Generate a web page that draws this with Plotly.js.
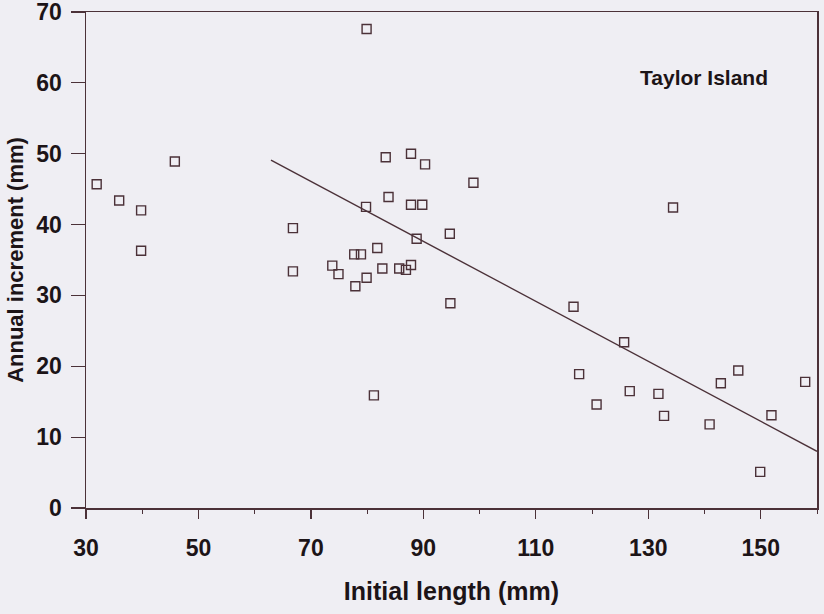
<!DOCTYPE html>
<html>
<head>
<meta charset="utf-8">
<script src="https://cdn.plot.ly/plotly-3.0.1.min.js"></script>
<style>
  html, body { margin: 0; padding: 0; background: #efeef3; }
  #chart { width: 824px; height: 614px; }
</style>
</head>
<body>
<div id="chart"></div>
<script>
// Initial length (mm) and annual increment (mm), Taylor Island
const initialLength = [31.9, 35.9, 39.8, 39.8, 45.8, 66.8, 66.8, 73.8, 74.9, 77.7,
  78.9, 77.9, 79.9, 79.9, 79.8, 81.8, 81.2, 83.3, 83.8, 82.7,
  85.7, 86.9, 87.8, 87.8, 90.3, 87.8, 89.8, 88.8, 94.7, 94.8,
  98.9, 116.7, 117.7, 120.8, 125.7, 126.7, 131.8, 132.8, 134.4, 140.9,
  142.9, 146.0, 149.9, 151.9, 157.9];
const annualIncrement = [45.7, 43.4, 42.0, 36.3, 48.9, 39.5, 33.4, 34.2, 33.0, 35.8,
  35.8, 31.3, 32.5, 67.6, 42.5, 36.7, 15.9, 49.5, 43.9, 33.8,
  33.8, 33.6, 34.3, 50.0, 48.5, 42.8, 42.8, 38.0, 38.7, 28.9,
  45.9, 28.4, 18.9, 14.6, 23.4, 16.5, 16.1, 13.0, 42.4, 11.8,
  17.6, 19.4, 5.1, 13.1, 17.8];
// fitted regression line end points
const fitX = [62.9, 160];
const fitY = [49.1, 8.0];
const xTickVals = [30, 50, 70, 90, 110, 130, 150];
const yTickVals = [0, 10, 20, 30, 40, 50, 60, 70];

const ink = '#4b3138';
const txt = '#1c1417';
const boldFont = (size) => ({ family: 'Liberation Sans, Arial, sans-serif', size: size, color: txt, weight: 700 });

const traces = [
  {
    x: fitX, y: fitY, mode: 'lines', type: 'scatter',
    line: { color: ink, width: 1.4 }, hoverinfo: 'skip', showlegend: false
  },
  {
    x: initialLength, y: annualIncrement, mode: 'markers', type: 'scatter',
    marker: { symbol: 'square-open', size: 9, color: ink, line: { width: 1.4, color: ink } },
    showlegend: false
  }
];

const layout = {
  width: 824, height: 614,
  paper_bgcolor: '#efeef3', plot_bgcolor: '#efeef3',
  margin: { l: 86, r: 7, t: 12, b: 106, autoexpand: false },
  showlegend: false,
  xaxis: {
    range: [30, 160], tickvals: xTickVals, ticktext: xTickVals.map(String),
    showgrid: false, zeroline: false, showline: true, mirror: true,
    linecolor: ink, linewidth: 1.5,
    ticks: 'outside', ticklen: 9, tickwidth: 1.2, tickcolor: ink,
    ticklabelstandoff: 10, ticklabeloverflow: 'allow', automargin: false,
    minor: { dtick: 10, tick0: 30, ticks: 'outside', ticklen: 4, tickcolor: ink, tickwidth: 1 },
    tickfont: boldFont(23),
    title: { text: 'Initial length (mm)', font: boldFont(25), standoff: 22 }
  },
  yaxis: {
    range: [0, 70], tickvals: yTickVals, ticktext: yTickVals.map(String),
    showgrid: false, zeroline: false, showline: true, mirror: true,
    linecolor: ink, linewidth: 1.5,
    ticks: 'outside', ticklen: 14, tickwidth: 1.2, tickcolor: ink,
    ticklabelstandoff: 4, ticklabeloverflow: 'allow', automargin: false,
    tickfont: boldFont(23),
    title: { text: 'Annual increment (mm)', font: boldFont(22), standoff: 6 }
  },
  annotations: [
    {
      text: 'Taylor Island', xref: 'paper', yref: 'paper',
      x: 0.845, y: 0.867, xanchor: 'center', yanchor: 'middle',
      showarrow: false, font: boldFont(21)
    }
  ]
};

Plotly.newPlot('chart', traces, layout, { staticPlot: true, displayModeBar: false });
</script>
</body>
</html>
